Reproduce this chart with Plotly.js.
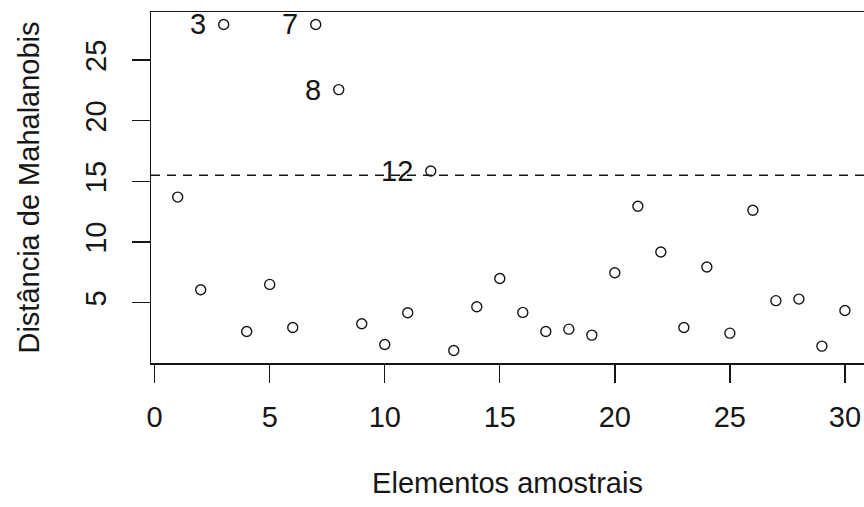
<!DOCTYPE html>
<html><head><meta charset="utf-8">
<script src="https://cdn.plot.ly/plotly-3.0.1.min.js"></script>
<style>html,body{margin:0;padding:0;overflow:hidden;background:#fff}</style>
</head><body><div id="chart" style="width:864px;height:507px"></div>
<script>
const elementos = [1,2,3,4,5,6,7,8,9,10,11,12,13,14,15,16,17,18,19,20,21,22,23,24,25,26,27,28,29,30];
const distancias = [13.71,6.07,27.94,2.63,6.51,2.96,27.94,22.57,3.27,1.56,4.17,15.86,1.06,4.67,7.00,4.20,2.63,2.82,2.33,7.47,12.95,9.18,2.96,7.94,2.49,12.62,5.17,5.30,1.42,4.36];
const limite = 15.5;
const xTicks = [0,5,10,15,20,25,30];
const yTicks = [5,10,15,20,25];
const xTitle = 'Elementos amostrais';
const yTitle = 'Distância de Mahalanobis';

const FONT = 'Liberation Sans, Arial, sans-serif';
const INK = '#161616';
const FS = 29;

const destaque = elementos.filter((e, i) => distancias[i] > limite);
const annotations = destaque.map(e => ({
  x: e, y: distancias[elementos.indexOf(e)], xref: 'x', yref: 'y',
  text: String(e), showarrow: false, xanchor: 'right', yanchor: 'middle',
  xshift: -16, font: {family: FONT, size: FS, color: INK}
}));

const trace = {
  x: elementos, y: distancias, type: 'scatter', mode: 'markers',
  marker: {symbol: 'circle-open', size: 10, color: INK, line: {width: 1.4, color: INK}},
  hoverinfo: 'x+y', showlegend: false
};

const axisCommon = {
  ticks: 'outside', ticklen: 18, tickwidth: 1.4, tickcolor: INK,
  showline: true, linewidth: 1.5, linecolor: INK,
  showgrid: false, zeroline: false,
  tickfont: {family: FONT, size: FS, color: INK}
};

const layout = {
  width: 864, height: 507,
  margin: {l: 151, r: 0, t: 12, b: 144},
  paper_bgcolor: '#fff', plot_bgcolor: '#fff',
  font: {family: FONT, color: INK},
  xaxis: Object.assign({}, axisCommon, {
    range: [-0.16, 30.83], tickmode: 'array', tickvals: xTicks, ticktext: xTicks.map(String),
    mirror: true, ticklabelstandoff: 10,
    title: {text: xTitle, font: {family: FONT, size: FS, color: INK}, standoff: 40}
  }),
  yaxis: Object.assign({}, axisCommon, {
    range: [0.03, 28.97], tickmode: 'array', tickvals: yTicks, ticktext: yTicks.map(String),
    tickangle: -90, mirror: false, ticklabelstandoff: 14,
    title: {text: yTitle, font: {family: FONT, size: FS, color: INK}, standoff: 32}
  }),
  shapes: [{
    type: 'line', xref: 'paper', x0: 0, x1: 1, yref: 'y', y0: limite, y1: limite,
    line: {color: INK, width: 1.5, dash: '9px,7px'}
  }],
  annotations: annotations
};

Plotly.newPlot('chart', [trace], layout, {displayModeBar: false, staticPlot: true});
</script>
</body></html>
